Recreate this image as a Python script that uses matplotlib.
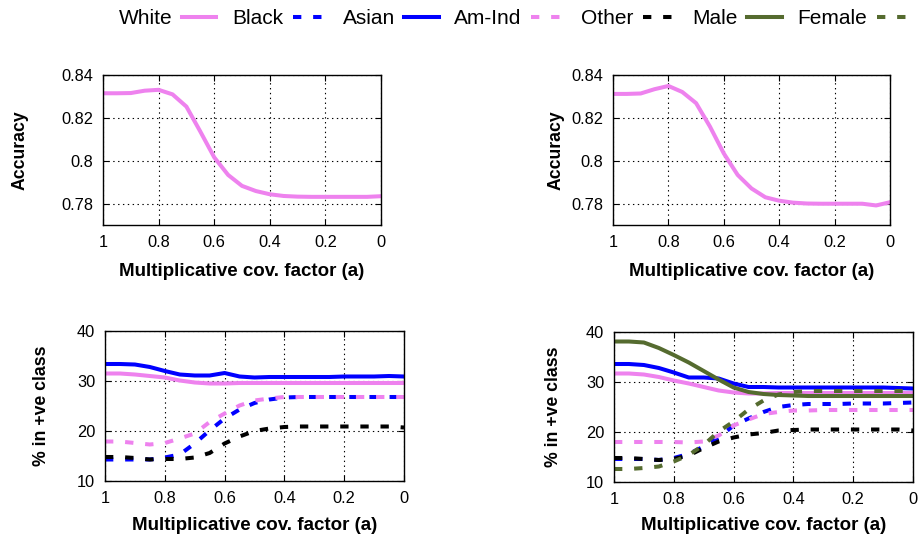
import matplotlib
matplotlib.use('Agg')
from matplotlib import pyplot as plt
from matplotlib.lines import Line2D

plt.rcParams['font.family'] = ['Liberation Sans', 'DejaVu Sans']
plt.rcParams['lines.scale_dashes'] = False

# x grid: multiplicative cov. factor
factor = [1.0, 0.95, 0.9, 0.85, 0.8, 0.75, 0.7, 0.65, 0.6, 0.55, 0.5,
          0.45, 0.4, 0.35, 0.3, 0.25, 0.2, 0.15, 0.1, 0.05, 0.0]

# accuracy, left and right experiments
acc_left = [0.8315, 0.8315, 0.8316, 0.8327, 0.8331, 0.8310, 0.8253, 0.8137,
            0.8017, 0.7935, 0.7884, 0.7860, 0.7845, 0.7837, 0.7834, 0.7833,
            0.7833, 0.7833, 0.7833, 0.7833, 0.7836]
acc_right = [0.8312, 0.8312, 0.8314, 0.8334, 0.8349, 0.8321, 0.8269, 0.8160,
             0.8035, 0.7935, 0.7872, 0.7831, 0.7815, 0.7806, 0.7802, 0.7801,
             0.7801, 0.7801, 0.7801, 0.7793, 0.7808]

# % in +ve class, left experiment (race)
left_white = [31.5, 31.5, 31.3, 31.0, 30.7, 30.1, 29.7, 29.5, 29.5, 29.6, 29.6,
              29.6, 29.6, 29.6, 29.6, 29.6, 29.6, 29.6, 29.6, 29.6, 29.6]
left_black = [14.3, 14.3, 14.3, 14.3, 14.7, 15.3, 17.5, 20.1, 22.5, 24.3, 25.6,
              26.3, 26.7, 26.8, 26.8, 26.8, 26.8, 26.8, 26.8, 26.8, 26.8]
left_asian = [33.4, 33.4, 33.3, 32.8, 32.0, 31.3, 31.1, 31.1, 31.6, 30.9, 30.7,
              30.8, 30.8, 30.8, 30.8, 30.8, 30.9, 30.9, 30.9, 31.0, 30.9]
left_amind = [17.9, 17.9, 17.6, 17.3, 17.6, 18.5, 19.5, 21.8, 23.5, 25.1, 26.1,
              26.5, 26.8, 26.8, 26.8, 26.8, 26.8, 26.8, 26.8, 26.8, 26.8]
left_other = [14.8, 14.8, 14.6, 14.3, 14.4, 14.4, 14.7, 15.6, 17.5, 18.9, 20.0,
              20.5, 20.8, 20.9, 20.9, 20.9, 20.9, 20.9, 20.9, 20.9, 20.7]

# % in +ve class, right experiment (race + sex)
right_white = [31.7, 31.7, 31.5, 31.0, 30.3, 29.7, 29.0, 28.3, 27.9, 27.7, 27.7,
               27.8, 27.8, 27.8, 27.8, 27.8, 27.8, 27.8, 27.8, 27.8, 27.8]
right_black = [14.6, 14.6, 14.6, 14.4, 14.8, 15.6, 17.1, 18.9, 21.3, 22.7, 24.0,
               25.0, 25.4, 25.6, 25.6, 25.6, 25.7, 25.7, 25.7, 25.8, 25.9]
right_asian = [33.6, 33.6, 33.4, 32.8, 31.9, 30.9, 30.9, 30.7, 29.7, 29.0, 29.0,
               28.9, 28.9, 28.9, 28.9, 28.9, 28.9, 28.9, 28.9, 28.8, 28.7]
right_amind = [18.0, 18.0, 18.0, 18.0, 18.0, 17.9, 18.1, 19.3, 21.3, 22.5, 23.6,
               24.0, 24.3, 24.3, 24.4, 24.4, 24.4, 24.4, 24.4, 24.4, 24.4]
right_other = [14.8, 14.8, 14.6, 14.4, 14.6, 15.3, 16.8, 18.1, 18.9, 19.5, 19.8,
               20.3, 20.4, 20.5, 20.5, 20.5, 20.5, 20.5, 20.5, 20.5, 20.3]
right_male = [38.1, 38.1, 37.9, 36.8, 35.4, 33.9, 32.2, 30.5, 28.9, 28.0, 27.6,
              27.4, 27.3, 27.2, 27.2, 27.2, 27.2, 27.2, 27.2, 27.2, 27.2]
right_female = [12.6, 12.6, 12.8, 13.1, 14.1, 15.4, 17.4, 20.1, 22.1, 24.5, 26.3,
                27.5, 28.0, 28.2, 28.2, 28.2, 28.2, 28.2, 28.2, 28.2, 28.2]

groups = ['White', 'Black', 'Asian', 'Am-Ind', 'Other', 'Male', 'Female']
xticks = [1, 0.8, 0.6, 0.4, 0.2, 0]
xticklabels = ['1', '0.8', '0.6', '0.4', '0.2', '0']

VIOLET = '#ee82ee'
BLUE = '#0000ff'
BLACK = '#000000'
GREEN = '#556b2f'
LW = 2.9
DASH = (6, 8.5)
styles = {
    'White': dict(color=VIOLET, ls='-'),
    'Black': dict(color=BLUE, dashes=DASH),
    'Asian': dict(color=BLUE, ls='-'),
    'Am-Ind': dict(color=VIOLET, dashes=DASH),
    'Other': dict(color=BLACK, dashes=DASH),
    'Male': dict(color=GREEN, ls='-'),
    'Female': dict(color=GREEN, dashes=DASH),
}

W, H = 920, 538
fig = plt.figure(figsize=(W / 100, H / 100), dpi=100)


def px_axes(left, top, right, bottom):
    return fig.add_axes([left / W, 1 - bottom / H, (right - left) / W, (bottom - top) / H])


def style_axes(ax, ylabel, yticks, yticklabels, ylim, ylab_x, xlab_y):
    ax.set_xlim(1, 0)
    ax.set_ylim(*ylim)
    ax.set_xticks(xticks)
    ax.set_xticklabels(xticklabels)
    ax.set_yticks(yticks)
    ax.set_yticklabels(yticklabels)
    ax.grid(True, color='black', ls=(0, (1, 2.5)), lw=0.8)
    ax.tick_params(direction='in', length=4, width=0.8, top=True, right=True,
                   labelsize=11.8, pad=7)
    for s in ax.spines.values():
        s.set_linewidth(1.0)
    ax.set_xlabel('Multiplicative cov. factor (a)', fontsize=13.5, fontweight='bold')
    ax.set_ylabel(ylabel, fontsize=12.7, fontweight='bold')
    # put labels at pixel centres like the gnuplot layout
    bb = ax.get_position()
    x0, y0 = bb.x0 * W, (1 - bb.y0) * H
    ax.yaxis.set_label_coords((ylab_x - x0) / (bb.width * W), 0.5)
    ax.yaxis.label.set_va('center')
    ax.xaxis.set_label_coords(0.5, (y0 - xlab_y) / (bb.height * H))
    ax.xaxis.label.set_va('center')


ax1 = px_axes(103, 75, 381, 225)
ax2 = px_axes(613, 75, 890, 225)
ax3 = px_axes(105, 331, 404, 481)
ax4 = px_axes(614, 332, 913, 482)

acc_ticks = [0.78, 0.8, 0.82, 0.84]
acc_labels = ['0.78', '0.8', '0.82', '0.84']
pct_ticks = [10, 20, 30, 40]
pct_labels = ['10', '20', '30', '40']

for ax, acc, lx in [(ax1, acc_left, 20), (ax2, acc_right, 556)]:
    ax.plot(factor, acc, lw=LW, **styles['White'])
    style_axes(ax, 'Accuracy', acc_ticks, acc_labels, (0.7702, 0.84), lx, 272)

left_series = {'White': left_white, 'Black': left_black, 'Asian': left_asian,
               'Am-Ind': left_amind, 'Other': left_other}
right_series = {'White': right_white, 'Black': right_black, 'Asian': right_asian,
                'Am-Ind': right_amind, 'Other': right_other,
                'Male': right_male, 'Female': right_female}

for ax, series, lx in [(ax3, left_series, 42), (ax4, right_series, 553)]:
    for g in groups:
        if g in series:
            ax.plot(factor, series[g], lw=LW, **styles[g])
    style_axes(ax, '% in +ve class', pct_ticks, pct_labels, (10, 40), lx, 525)

handles = [Line2D([], [], lw=LW, **styles[g]) for g in groups]
fig.legend(handles, groups, ncol=7, loc='upper left', frameon=False,
           markerfirst=False, fontsize=15, handlelength=1.65, handletextpad=0.45,
           columnspacing=0.75, borderpad=0, borderaxespad=0,
           bbox_to_anchor=(119 / W, 1 - 9 / H))

fig.savefig('out.png', dpi=100)
